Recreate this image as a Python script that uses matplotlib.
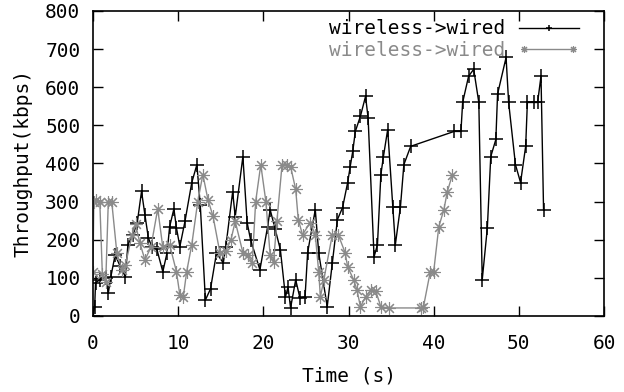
import matplotlib.pyplot as plt
from matplotlib.legend_handler import HandlerLine2D

plt.rcParams['font.family'] = ['DejaVu Sans Mono']

# first flow: time (s) and throughput (kbps)
t_wired1 = [0.0, 0.2, 0.3, 0.8, 1.5, 1.8, 2.1, 2.6, 3.2, 3.8, 4.1, 4.7, 5.2,
            5.7, 6.1, 6.5, 6.9, 7.5, 8.2, 8.7, 9.0, 9.5, 9.8, 10.2, 10.8,
            11.6, 12.2, 12.6, 13.2, 13.8, 14.5, 15.3, 15.6, 16.4, 16.7, 17.6,
            18.1, 18.5, 19.6, 20.5, 20.8, 21.4, 22.0, 22.6, 22.9, 23.2, 23.8,
            24.3, 24.9, 25.2, 26.1, 26.5, 27.5, 28.1, 28.7, 29.3, 29.9, 30.2,
            30.5, 30.8, 31.4, 32.0, 32.3, 33.0, 33.4, 33.8, 34.1, 34.6, 35.2,
            35.5, 36.1, 36.5, 37.3, 42.4, 43.2, 43.4, 44.1, 44.7, 45.3, 45.7,
            46.3, 46.7, 47.3, 47.5, 48.5, 48.8, 49.6, 50.2, 50.8, 51.0, 51.8,
            52.2, 52.6, 52.9]
kbps_wired1 = [0, 24, 87, 95, 100, 60, 103, 160, 130, 103, 187, 213, 245,
               327, 265, 205, 182, 175, 116, 166, 234, 281, 231, 182, 248,
               350, 397, 290, 42, 71, 165, 139, 182, 326, 260, 418,
               245, 200, 121, 234, 279, 227, 174, 50, 76, 21, 95,
               47, 50, 166, 279, 166, 24, 139, 253, 284, 350, 392,
               432, 484, 524, 576, 520, 155, 187, 371, 418, 489, 287,
               187, 287, 397, 445, 484, 484, 560, 629, 647, 560, 95,
               231, 418, 463, 582, 678, 560, 397, 350, 445, 560, 560,
               560, 629, 279]

# second flow
t_wired2 = [0.0, 0.1, 0.4, 0.8, 1.1, 1.5, 1.8, 2.2, 2.8, 3.4, 3.8, 4.6, 5.0,
            5.5, 6.1, 6.8, 7.6, 8.2, 9.0, 9.8, 10.2, 10.6, 11.0, 11.6, 12.3,
            12.9, 13.5, 14.1, 14.9, 15.6, 16.2, 16.7, 17.6, 18.2, 18.7, 19.1,
            19.7, 20.3, 20.8, 21.2, 21.6, 22.2, 22.8, 23.2, 23.8, 24.1, 24.6,
            25.5, 26.1, 26.5, 26.7, 27.1, 28.1, 28.8, 29.6, 29.9, 30.6, 31.0,
            31.4, 32.0, 32.6, 33.2, 33.8, 34.7, 38.5, 38.8, 39.6, 40.0, 40.6,
            41.2, 41.6, 42.2]
kbps_wired2 = [116, 300, 305, 300, 110, 90, 300, 300, 166, 121, 134, 213, 240,
               192, 147, 180, 281, 180, 187, 116, 55, 50, 116, 187, 300,
               371, 305, 261, 166, 170, 200, 248, 166, 160, 139, 300,
               397, 300, 160, 142, 250, 397, 397, 392, 332, 253, 213,
               245, 213, 116, 50, 95, 213, 213, 166, 129, 95, 68,
               24, 50, 68, 65, 24, 21, 21, 24, 116, 116, 234,
               279, 326, 371]

fig = plt.figure(figsize=(6.24, 3.92), dpi=100)
ax = fig.add_axes([0.149, 0.194, 0.819, 0.778])

ax.plot(t_wired1, kbps_wired1, color='black', lw=1.0, marker='+',
        markersize=10, markeredgewidth=1.1, label='wireless->wired')
ax.plot(t_wired2, kbps_wired2, color='#8a8a8a', lw=1.0, marker=(8, 2, 0),
        markersize=9, markeredgewidth=0.8, label='wireless->wired')

ax.set_xlim(0, 60)
ax.set_ylim(0, 800)
ax.set_xticks(range(0, 61, 10))
ax.set_yticks(range(0, 801, 100))
ax.tick_params(direction='in', length=7, width=1, top=True, right=True,
               labelsize=14)
ax.tick_params(axis='x', pad=13)
ax.tick_params(axis='y', pad=9)
for s in ax.spines.values():
    s.set_linewidth(1.2)

ax.set_xlabel('Time (s)', fontsize=14, labelpad=10)
ax.set_ylabel('Throughput(kbps)', fontsize=14, labelpad=9)

leg = ax.legend(loc='upper right', bbox_to_anchor=(0.985, 1.03),
                frameon=False, markerfirst=False, fontsize=14,
                handlelength=3.1, handletextpad=0.7, labelspacing=0.15,
                handler_map={ax.lines[1]: HandlerLine2D(numpoints=2)})
leg.get_texts()[1].set_color('#8a8a8a')
for h in leg.legend_handles:
    h.set_markersize(5)

plt.savefig('out.png')
